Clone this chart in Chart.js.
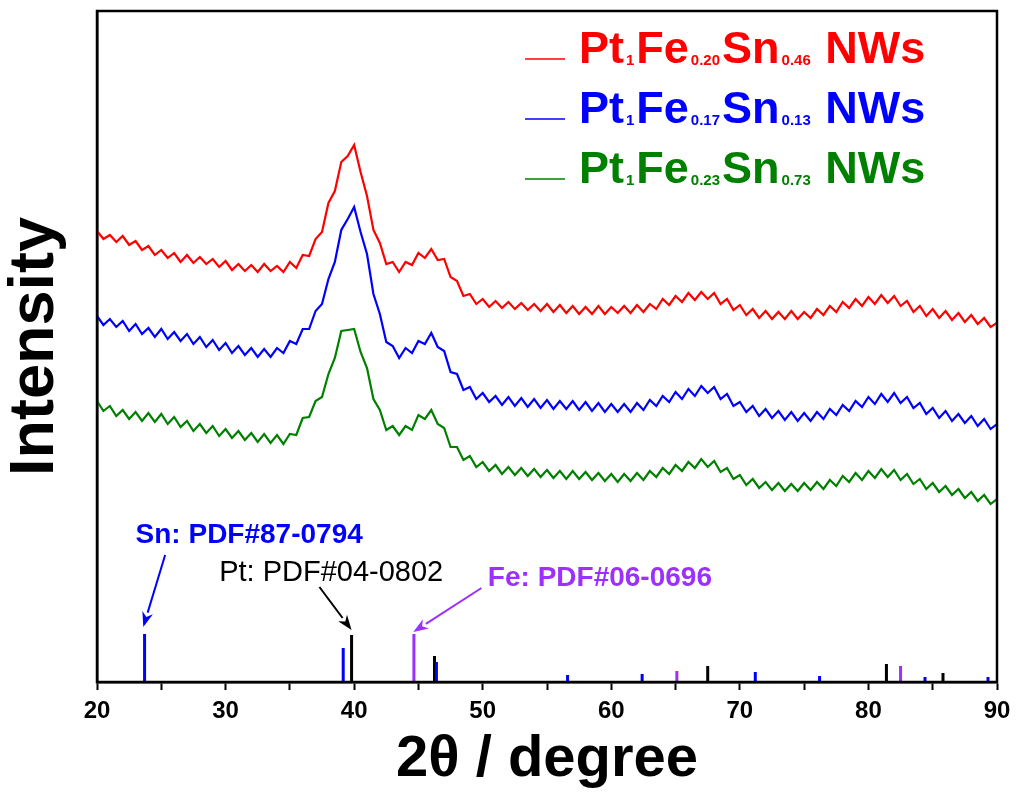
<!DOCTYPE html>
<html>
<head>
<meta charset="utf-8">
<script src="https://cdn.jsdelivr.net/npm/chart.js@4.4.1/dist/chart.umd.min.js"></script>
<style>
  html, body { margin: 0; padding: 0; background: #fff; }
  #wrap { width: 1019px; height: 798px; }
</style>
</head>
<body>
<div id="wrap"><canvas id="xrd"></canvas></div>
<script>
// 2theta grid (degrees), one reading every 0.5 deg
const twoTheta = [
  20,20.5,21,21.5,22,22.5,23,23.5,24,24.5,
  25,25.5,26,26.5,27,27.5,28,28.5,29,29.5,
  30,30.5,31,31.5,32,32.5,33,33.5,34,34.5,
  35,35.5,36,36.5,37,37.5,38,38.5,39,39.5,
  40,40.5,41,41.5,42,42.5,43,43.5,44,44.5,
  45,45.5,46,46.5,47,47.5,48,48.5,49,49.5,
  50,50.5,51,51.5,52,52.5,53,53.5,54,54.5,
  55,55.5,56,56.5,57,57.5,58,58.5,59,59.5,
  60,60.5,61,61.5,62,62.5,63,63.5,64,64.5,
  65,65.5,66,66.5,67,67.5,68,68.5,69,69.5,
  70,70.5,71,71.5,72,72.5,73,73.5,74,74.5,
  75,75.5,76,76.5,77,77.5,78,78.5,79,79.5,
  80,80.5,81,81.5,82,82.5,83,83.5,84,84.5,
  85,85.5,86,86.5,87,87.5,88,88.5,89,89.5,
  90
];

// intensities (a.u., stacked/offset as in the figure)
const redNW = [
  451,443,447,440,446,437,441,432,436,427,
  432,424,429,420,427,419,425,418,423,415,
  421,412,418,411,417,410,418,411,416,410,
  420,414,427,426,443,450,479,491,520,526,
  537,510,486,452,439,418,420,410,420,417,
  429,424,433,422,423,405,401,386,388,378,
  383,375,381,374,380,373,379,372,378,371,
  378,370,377,369,376,368,375,368,376,368,
  375,369,376,369,377,370,378,373,383,377,
  386,380,389,382,390,383,389,378,383,372,
  377,367,373,364,371,363,370,363,371,363,
  370,364,373,367,376,370,380,374,383,376,
  385,378,387,379,386,376,381,370,376,366,
  373,364,371,362,369,360,367,358,364,355,
  359
];
const blueNW = [
  366,357,363,355,361,351,358,348,354,345,
  353,343,350,341,348,338,345,335,342,332,
  339,329,336,327,334,325,333,325,334,329,
  341,338,353,353,371,378,403,420,452,463,
  475,450,428,388,368,340,336,324,334,329,
  341,338,349,335,331,310,308,292,295,283,
  289,280,286,277,285,276,284,275,283,274,
  282,273,281,273,281,272,280,271,279,270,
  278,270,278,270,279,272,282,276,286,280,
  290,283,293,286,296,289,295,283,288,276,
  280,270,276,266,273,264,271,262,270,261,
  269,261,270,263,273,267,277,271,281,275,
  285,278,288,280,289,279,285,274,279,268,
  274,264,271,261,268,259,266,256,263,253,
  258
];
const greenNW = [
  281,271,276,266,272,263,270,261,269,260,
  268,258,265,255,261,251,258,249,256,246,
  253,244,251,242,249,240,248,239,247,238,
  248,247,264,265,281,285,308,324,351,352,
  353,330,314,283,272,252,256,247,256,252,
  267,263,272,258,254,235,235,222,226,215,
  220,211,217,208,215,207,214,206,213,205,
  212,204,211,203,211,203,210,202,209,201,
  208,200,208,201,209,202,211,205,214,208,
  217,211,220,214,223,215,221,210,214,203,
  207,197,203,194,200,192,199,191,198,191,
  199,192,200,193,202,196,206,200,209,202,
  211,204,213,205,212,202,208,198,203,193,
  199,190,196,187,193,184,190,181,187,178,
  183
];

const seriesLabels = [
  'Pt_{1}Fe_{0.20}Sn_{0.46} NWs',
  'Pt_{1}Fe_{0.17}Sn_{0.13} NWs',
  'Pt_{1}Fe_{0.23}Sn_{0.73} NWs'
];

// standard patterns: peak position (deg) and relative height
const snPos = [23.7, 39.15, 46.4, 56.6, 62.4, 71.2, 76.2, 84.4, 89.3];
const snInt = [48, 34, 20, 7, 8, 10, 6, 5, 5];
const ptPos = [39.8, 46.25, 67.5, 81.4, 85.8];
const ptInt = [47, 26, 16, 18, 9];
const fePos = [44.65, 65.1, 82.5];
const feInt = [48, 11, 16];

const xTicks = [20, 30, 40, 50, 60, 70, 80, 90];

const FONT = '"Liberation Sans", Arial, Helvetica, sans-serif';
const RED = '#ff0000', BLUE = '#0000ff', GREEN = '#008000', PURPLE = '#9b30ff';

function toPoints(ys) {
  return twoTheta.map((t, i) => ({x: t, y: ys[i]}));
}

// each stick: baseline -> height, then a gap
function sticks(pos, hts) {
  const pts = [];
  pos.forEach((p, i) => {
    pts.push({x: p, y: 0}, {x: p, y: hts[i]}, {x: p, y: null});
  });
  return pts;
}

function curve(label, ys, color) {
  return {
    label, data: toPoints(ys), borderColor: color, backgroundColor: color,
    borderWidth: 2.2, pointRadius: 0, tension: 0, fill: false
  };
}
function stickSet(label, pos, hts, color) {
  return {
    label, data: sticks(pos, hts), borderColor: color, backgroundColor: color,
    borderWidth: 3, pointRadius: 0, spanGaps: false, fill: false, borderCapStyle: 'butt'
  };
}

// draws text like Pt_{1}Fe_{0.20} with subscripts
function drawRich(ctx, label, x, yBase) {
  const re = /_\{([^}]*)\}|([^_]+)/g;
  let m;
  while ((m = re.exec(label)) !== null) {
    const sub = m[1] !== undefined;
    const t = sub ? m[1] : m[2];
    ctx.font = sub ? 'bold 15px ' + FONT : 'bold 45px ' + FONT;
    ctx.fillText(t, x, yBase + (sub ? 2 : 0));
    x += ctx.measureText(t).width + 2;
  }
}

function arrow(ctx, x1, y1, x2, y2, color) {
  const a = Math.atan2(y2 - y1, x2 - x1);
  const L = 15, W = 5.5;
  const bx = x2 - L * Math.cos(a), by = y2 - L * Math.sin(a);
  ctx.strokeStyle = color;
  ctx.fillStyle = color;
  ctx.lineWidth = 2;
  ctx.beginPath();
  ctx.moveTo(x1, y1);
  ctx.lineTo(bx, by);
  ctx.stroke();
  ctx.beginPath();
  ctx.moveTo(x2, y2);
  ctx.lineTo(bx + W * Math.sin(a), by - W * Math.cos(a));
  ctx.lineTo(x2 - L * 0.7 * Math.cos(a), y2 - L * 0.7 * Math.sin(a));
  ctx.lineTo(bx - W * Math.sin(a), by + W * Math.cos(a));
  ctx.closePath();
  ctx.fill();
}

const decor = {
  id: 'decor',
  afterDraw(chart) {
    const {ctx, chartArea: a, scales: {x, y}} = chart;
    ctx.save();
    // frame
    ctx.strokeStyle = '#000';
    ctx.lineWidth = 2.5;
    ctx.strokeRect(a.left, a.top, a.right - a.left, a.bottom - a.top);

    // legend
    const rows = [59, 119, 179];
    chart.data.datasets.slice(0, 3).forEach((ds, i) => {
      ctx.strokeStyle = ds.borderColor;
      ctx.lineWidth = 1.5;
      ctx.beginPath();
      ctx.moveTo(525, rows[i]);
      ctx.lineTo(565, rows[i]);
      ctx.stroke();
      ctx.fillStyle = ds.borderColor;
      ctx.textBaseline = 'alphabetic';
      ctx.textAlign = 'left';
      drawRich(ctx, ds.label, 579, rows[i] + 4);
    });

    // pattern labels
    ctx.textBaseline = 'middle';
    ctx.textAlign = 'left';
    ctx.fillStyle = BLUE;
    ctx.font = 'bold 28px ' + FONT;
    ctx.fillText('Sn: PDF#87-0794', x.getPixelForValue(23.0), y.getPixelForValue(147));
    ctx.fillStyle = '#000';
    ctx.font = '29px ' + FONT;
    ctx.fillText('Pt: PDF#04-0802', x.getPixelForValue(29.5), y.getPixelForValue(109));
    ctx.fillStyle = PURPLE;
    ctx.font = 'bold 28px ' + FONT;
    ctx.fillText('Fe: PDF#06-0696', x.getPixelForValue(50.4), y.getPixelForValue(104));

    arrow(ctx, x.getPixelForValue(25.3), y.getPixelForValue(127),
               x.getPixelForValue(23.6), y.getPixelForValue(55), BLUE);
    arrow(ctx, x.getPixelForValue(37.3), y.getPixelForValue(95),
               x.getPixelForValue(39.8), y.getPixelForValue(52), '#000');
    arrow(ctx, x.getPixelForValue(49.9), y.getPixelForValue(94),
               x.getPixelForValue(44.6), y.getPixelForValue(50), PURPLE);
    ctx.restore();
  }
};

new Chart(document.getElementById('xrd'), {
  type: 'line',
  data: {
    datasets: [
      curve(seriesLabels[0], redNW, RED),
      curve(seriesLabels[1], blueNW, BLUE),
      curve(seriesLabels[2], greenNW, GREEN),
      stickSet('Sn: PDF#87-0794', snPos, snInt, BLUE),
      stickSet('Pt: PDF#04-0802', ptPos, ptInt, '#000'),
      stickSet('Fe: PDF#06-0696', fePos, feInt, PURPLE)
    ]
  },
  options: {
    responsive: true,
    maintainAspectRatio: false,
    animation: false,
    layout: {padding: {top: 11, right: 22, left: 0, bottom: 0}},
    plugins: {legend: {display: false}, tooltip: {enabled: false}},
    scales: {
      x: {
        type: 'linear', min: 20, max: 90,
        afterBuildTicks(s) {
          s.ticks = [];
          for (let v = 20; v <= 90; v += 5) s.ticks.push({value: v});
        },
        border: {display: true, color: '#000', width: 2.5},
        grid: {display: true, drawOnChartArea: false, drawTicks: true, tickLength: 8,
               tickWidth: 2, tickColor: '#000'},
        ticks: {
          autoSkip: false, maxRotation: 0, color: '#000', padding: 7,
          font: {family: FONT, size: 24, weight: 'bold'},
          callback: v => xTicks.includes(v) ? String(v) : ''
        },
        title: {display: true, text: '2θ / degree', color: '#000',
                font: {family: FONT, size: 58, weight: 'bold', lineHeight: 1},
                padding: {top: 0, bottom: 9}},
        afterFit(s) { s.height = 116; }
      },
      y: {
        min: 0, max: 671,
        border: {display: true, color: '#000', width: 2.5},
        grid: {display: false},
        ticks: {display: false},
        title: {display: true, text: 'Intensity', color: '#000',
                font: {family: FONT, size: 63, weight: 'bold', lineHeight: 1},
                padding: {top: 4, bottom: 0}},
        afterFit(s) { s.width = 97; }
      }
    }
  },
  plugins: [decor]
});
</script>
</body>
</html>
